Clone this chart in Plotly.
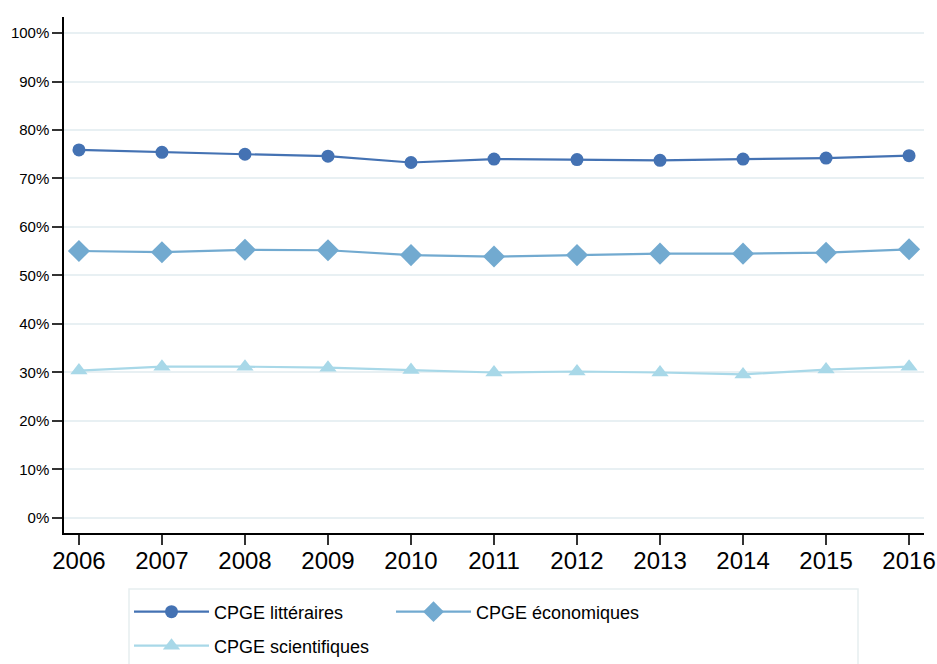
import plotly.graph_objects as go

years = [2006, 2007, 2008, 2009, 2010, 2011, 2012, 2013, 2014, 2015, 2016]
litteraires = [75.9, 75.4, 75.0, 74.6, 73.3, 74.0, 73.9, 73.75, 74.0, 74.2, 74.7]
economiques = [55.05, 54.8, 55.3, 55.2, 54.2, 53.9, 54.2, 54.5, 54.5, 54.7, 55.4]
scientifiques = [30.4, 31.2, 31.2, 31.0, 30.5, 30.0, 30.2, 30.0, 29.6, 30.6, 31.2]

y_ticks = [0, 10, 20, 30, 40, 50, 60, 70, 80, 90, 100]
y_labels = [f"{v}%" for v in y_ticks]

series = [
    ("CPGE littéraires", litteraires, "#4472B3", "circle", 13, "legend"),
    ("CPGE économiques", economiques, "#72AAD0", "diamond", 17, "legend"),
    ("CPGE scientifiques", scientifiques, "#A8D8E8", "triangle-up", 15, "legend2"),
]

fig = go.Figure()
for name, vals, color, sym, size, leg in series:
    fig.add_trace(go.Scatter(
        x=years, y=vals, name=name, mode="lines+markers",
        line=dict(color=color, width=2.2),
        marker=dict(symbol=sym, size=size, color=color),
        legend=leg,
    ))

font_family = "Liberation Sans, Arial, Helvetica, sans-serif"

W, H = 937, 664
ML, MR, MT = 64, 13, 17
plot_bottom = 533
MB = H - plot_bottom
plot_w = W - ML - MR
plot_h = plot_bottom - MT


def px(x_abs):
    return (x_abs - ML) / plot_w


def py(y_abs):
    return (plot_bottom - y_abs) / plot_h


leg_common = dict(
    orientation="h", xref="paper", yref="paper",
    xanchor="left", yanchor="middle",
    borderwidth=0, bgcolor="rgba(0,0,0,0)",
    font=dict(size=18, family=font_family, color="black"),
    itemwidth=75,
    entrywidth=172, entrywidthmode="pixels",
    tracegroupgap=0,
)

fig.update_layout(
    width=W, height=H,
    margin=dict(l=ML, r=MR, t=MT, b=MB, autoexpand=False),
    paper_bgcolor="white", plot_bgcolor="white",
    font=dict(family=font_family, color="black"),
    showlegend=True,
    legend=dict(leg_common, x=px(129), y=py(612)),
    legend2=dict(leg_common, x=px(129), y=py(646)),
    shapes=[dict(
        type="rect", xref="paper", yref="paper",
        x0=px(129), x1=px(858),
        y0=py(700), y1=py(589),
        line=dict(color="#E6EEF0", width=1.5), fillcolor="rgba(0,0,0,0)",
        layer="below",
    )],
    xaxis=dict(
        range=[2005.82, 2016.18],
        tickmode="array", tickvals=years, ticktext=[str(y) for y in years],
        ticks="outside", ticklen=10, tickwidth=1.5, tickcolor="#333333",
        ticklabelstandoff=-5,
        showline=True, linecolor="black", linewidth=1.5,
        showgrid=False, zeroline=False,
        tickfont=dict(size=24, family=font_family, color="black"),
    ),
    yaxis=dict(
        range=[-3.1, 103.3],
        tickmode="array", tickvals=y_ticks, ticktext=y_labels,
        ticks="outside", ticklen=10, tickwidth=1.5, tickcolor="#333333",
        showline=True, linecolor="black", linewidth=1.5,
        showgrid=True, gridcolor="#E8F0F3", gridwidth=1.5,
        zeroline=False,
        tickfont=dict(size=15, family=font_family, color="black"),
    ),
)

fig.write_html(
    "out.html",
    config={"displayModeBar": False},
    post_script="document.body.style.margin='0';document.body.style.overflow='hidden';"
                "document.documentElement.style.overflow='hidden';",
)
